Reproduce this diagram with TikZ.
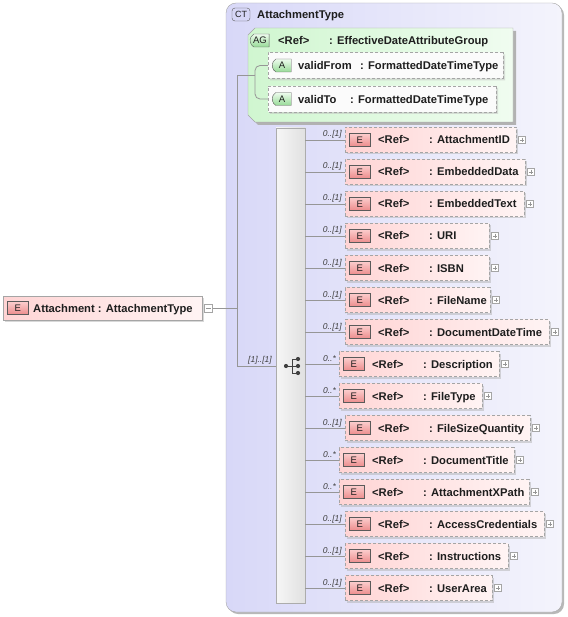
\documentclass[tikz,border=0pt]{standalone}
\usepackage{fontspec}
\setmainfont{Liberation Sans}
\usetikzlibrary{shapes.misc,calc,shadows}
\definecolor{ctL}{RGB}{216,216,248}
\definecolor{ctR}{RGB}{244,244,252}
\definecolor{agL}{RGB}{208,246,208}
\definecolor{agR}{RGB}{240,252,240}
\definecolor{elL}{RGB}{255,212,212}
\definecolor{elR}{RGB}{255,244,244}
\definecolor{bdr}{RGB}{165,165,165}
\definecolor{lgray}{RGB}{150,150,150}
\definecolor{txt}{RGB}{30,30,30}
\definecolor{ebT}{RGB}{252,205,205}
\definecolor{ebB}{RGB}{236,140,140}
\definecolor{gbT}{RGB}{238,252,238}
\definecolor{gbB}{RGB}{150,218,150}
\definecolor{cbF}{RGB}{214,214,246}
\definecolor{bdg}{RGB}{90,90,90}
\tikzset{
  line/.style={draw=lgray, line width=0.8pt},
  ebox/.style={rectangle, draw=bdr, dash pattern=on 3pt off 2pt, left color=elL, right color=elR,
    minimum height=25pt, inner sep=0pt,
    drop shadow={shadow xshift=2pt, shadow yshift=-2pt, fill=black!30}},
  mbox/.style={rectangle, draw=bdr, left color=elL, right color=elR,
    minimum height=24pt, inner sep=0pt,
    drop shadow={shadow xshift=2pt, shadow yshift=-2pt, fill=black!30}},
  abox/.style={chamfered rectangle, chamfered rectangle corners={north west,south west},
    chamfered rectangle xsep=5pt, chamfered rectangle ysep=5pt,
    draw=bdr, dash pattern=on 3pt off 2pt, fill=white!97!gray,
    minimum height=26pt, inner sep=0pt,
    drop shadow={shadow xshift=2pt, shadow yshift=-2pt, fill=black!25}},
  ebadge/.style={rectangle, draw=bdg, top color=ebT, bottom color=ebB, minimum width=21pt,
    minimum height=13pt, inner sep=0pt, text=txt, font=\fontsize{9.5}{10}\selectfont},
  gbadge/.style={rounded rectangle, rounded rectangle right arc=none, rounded rectangle arc length=120,
    draw=bdg, top color=gbT, bottom color=gbB, minimum width=21pt,
    minimum height=13pt, inner sep=1pt, text=txt, font=\fontsize{9.5}{10}\selectfont},
  cbadge/.style={rectangle, rounded corners=3pt, draw=bdg, fill=cbF, minimum width=18pt,
    minimum height=13pt, inner sep=0pt, text=txt, font=\fontsize{9}{10}\selectfont},
  etxt/.style={inner sep=0pt, anchor=base west, text=txt, font=\fontsize{11.2}{13}\selectfont\bfseries},
  card/.style={inner sep=0pt, text=txt!85, font=\fontsize{8.5}{10}\selectfont\itshape},
  pbox/.style={rectangle, draw=bdr, fill=white, minimum size=7pt, inner sep=0pt,
    path picture={\draw[lgray, line width=0.6pt]
      ($(path picture bounding box.center)+(-2.3,0)$) -- ($(path picture bounding box.center)+(2.3,0)$);
      \draw[lgray, line width=0.6pt]
      ($(path picture bounding box.center)+(0,-2.3)$) -- ($(path picture bounding box.center)+(0,2.3)$);}},
  mnbox/.style={rectangle, draw=bdr, fill=white, minimum size=8pt, inner sep=0pt,
    path picture={\draw[lgray, line width=0.6pt]
      ($(path picture bounding box.center)+(-2.3,0)$) -- ($(path picture bounding box.center)+(2.3,0)$);}},
  seqbox/.style={rectangle, draw=gray!65, left color=gray!7, right color=gray!24, inner sep=0pt},
  icon/.style={fill=black!75, draw=none},
}
\newcommand\erow[6]{%
  \node[ebox, minimum width={#4-#3}, anchor=west] (#1) at (#3,#2) {};
  \node[ebadge, anchor=west] (#1b) at ($(#1.west)+(4,0)$) {E};
  \node[etxt] (#1r) at ($(#1.west)+(33,4)$) {<Ref>};
  \node[etxt] (#1n) at ($(#1.west)+(84,4)$) {: #6};
  \node[pbox, anchor=west] (#1p) at ($(#1.east)+(2,0)$) {};
  \draw[line] (seq.east |- #1.west) -- (#1.west);
  \node[card, anchor=base east] (#1c) at ($(#1.west)+(-3,-3)$) {#5};
}
\begin{document}
\begin{tikzpicture}[x=1pt,y=-1pt]
\useasboundingbox (0,0) rectangle (567,617);
% complex type box
\fill[black!28, rounded corners=10pt] (228,5) rectangle (564,614);
\path[draw=bdr, left color=ctL, right color=ctR, rounded corners=10pt] (226,3) rectangle (562,612);
\node[cbadge] (ct) at (241,14.5) {CT};
\node[etxt] (ctn) at (257,19) {AttachmentType};
% attribute group
\fill[black!30] (259,31) -- (516,31) -- (516,125) -- (258,125) -- (251,118) -- (251,38) -- cycle;
\path[draw=bdr, left color=agL, right color=agR] (255,28) -- (513,28) -- (513,122) -- (255,122) -- (248,115) -- (248,35) -- cycle;
\node[gbadge] (ag) at (260,40.5) {AG};
\node[etxt] (agr) at (278,45) {<Ref>};
\node[etxt] (agn) at (329,45) {: EffectiveDateAttributeGroup};
\node[abox, minimum width=235pt, anchor=west] (vf) at (268,65.5) {};
\node[abox, minimum width=228pt, anchor=west] (vt) at (268,99) {};
\node[gbadge, anchor=west] (vfb) at ($(vf.west)+(4,0)$) {A};
\node[gbadge, anchor=west] (vtb) at ($(vt.west)+(4,0)$) {A};
\node[etxt] (vfn) at (298,70) {validFrom};
\node[etxt] (vft) at (360,70) {: FormattedDateTimeType};
\node[etxt] (vtn) at (298,103.5) {validTo};
\node[etxt] (vtt) at (350,103.5) {: FormattedDateTimeType};
% main element
\node[mbox, minimum width=199pt, anchor=west] (att) at (3,308) {};
\node[ebadge, anchor=west] (attb) at ($(att.west)+(4,0)$) {E};
\node[etxt] (attn) at (33,312.5) {Attachment : AttachmentType};
\node[mnbox, anchor=west] (attm) at ($(att.east)+(2,0)$) {};
% sequence
\node[seqbox, minimum width=29pt, minimum height=475pt] (seq) at (290.5,365.5) {};
\coordinate (t1) at (237,75);
\coordinate (agj) at (255,75);
\coordinate (t2) at (237,366);
\draw[line] (attm.east) -- (attm.east -| t1);
\draw[line] (agj) -- (t1) -- (t2) -- (t2 -| seq.west);
\draw[line, rounded corners=5pt] (vf.west) -| (agj);
\draw[line, rounded corners=5pt] (vt.west) -| (agj);
\node[card, anchor=base east] (seqc) at (272,362.5) {[1]..[1]};
% sequence icon
\draw[black!75, line width=0.9pt] (286,366) -- (292,366) (292,359) -- (292,373)
  (292,359) -- (298,359) (292,366) -- (298,366) (292,373) -- (298,373);
\fill[icon] (286,366) circle (2.1) (298,359) circle (2.1) (298,366) circle (2.1) (298,373) circle (2.1);
% elements
\erow{e1}{140}{345}{516}{0..[1]}{AttachmentID}
\erow{e2}{172}{345}{525}{0..[1]}{EmbeddedData}
\erow{e3}{204}{345}{524}{0..[1]}{EmbeddedText}
\erow{e4}{236}{345}{489}{0..[1]}{URI}
\erow{e5}{268}{345}{489}{0..[1]}{ISBN}
\erow{e6}{300}{345}{490}{0..[1]}{FileName}
\erow{e7}{332}{345}{549}{0..[1]}{DocumentDateTime}
\erow{e8}{364}{339}{499}{0..*}{Description}
\erow{e9}{396}{339}{482}{0..*}{FileType}
\erow{e10}{428}{345}{530}{0..[1]}{FileSizeQuantity}
\erow{e11}{460}{339}{514}{0..*}{DocumentTitle}
\erow{e12}{492}{339}{529}{0..*}{AttachmentXPath}
\erow{e13}{524}{345}{544}{0..[1]}{AccessCredentials}
\erow{e14}{556}{345}{508}{0..[1]}{Instructions}
\erow{e15}{588}{345}{492}{0..[1]}{UserArea}
\end{tikzpicture}
\end{document}
